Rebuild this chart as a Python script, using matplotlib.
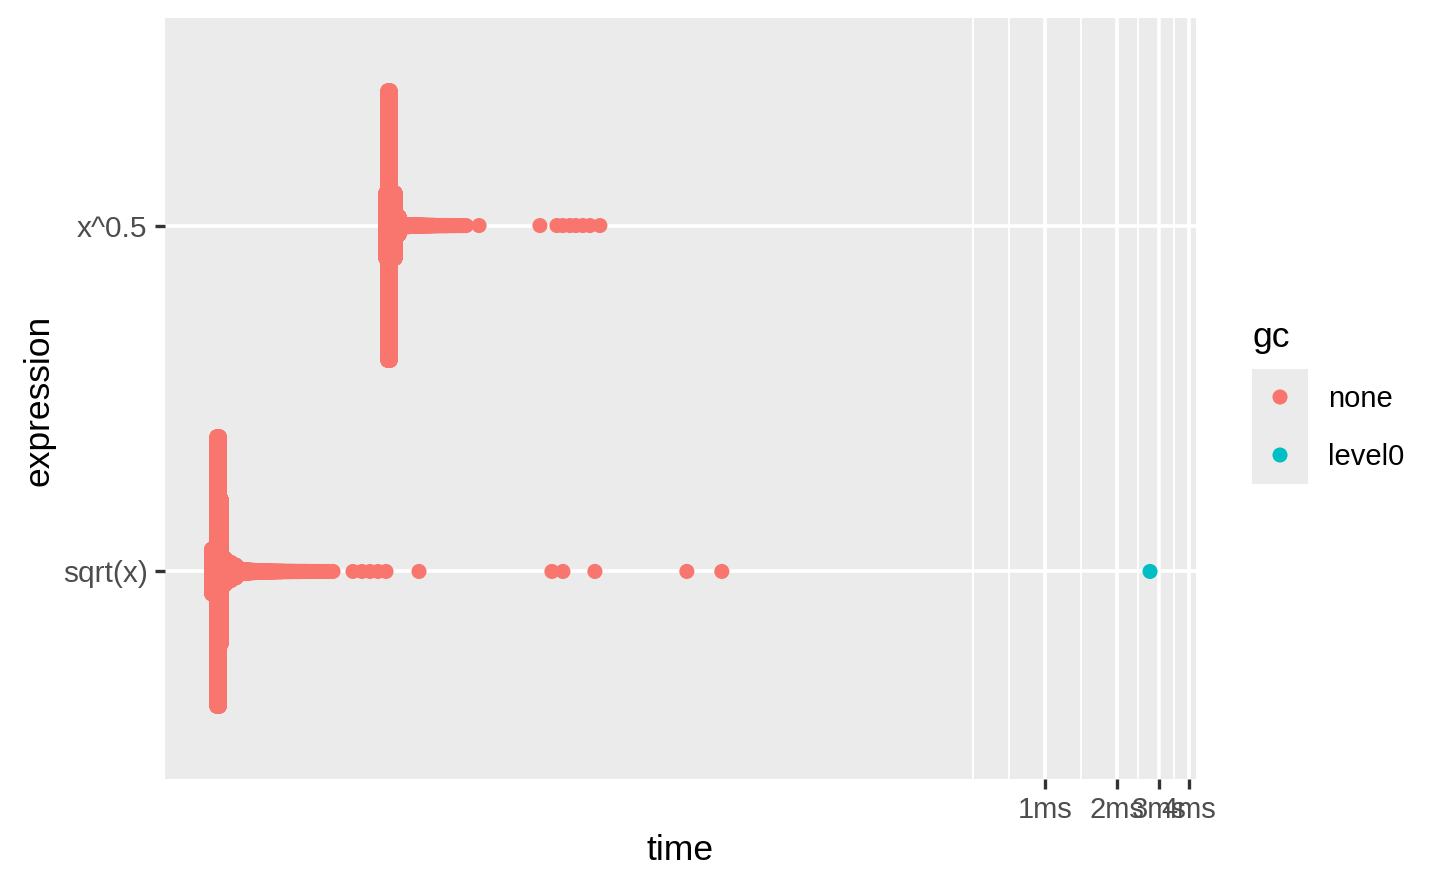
import numpy as np
import matplotlib
matplotlib.use("Agg")
import matplotlib.pyplot as plt
from matplotlib.ticker import FixedLocator, NullFormatter, NullLocator

# ---------------- data ----------------
expressions = ["sqrt(x)", "x^0.5"]
gc_levels = ["none", "level0"]
gc_colors = ["#F8766D", "#00BFC4"]

# sqrt(x), gc = none : distinct timings (ns) and how many iterations gave each
sqrt_times = [328, 345, 352, 358, 372, 395, 414,
              430, 440, 450, 460, 470, 480, 492, 505, 518, 530, 545, 560, 575,
              590, 605, 620, 636, 652, 668, 685, 702, 720, 740, 760, 780, 800,
              822, 845, 868, 892, 916, 940, 965, 990, 1015, 1040, 1054,
              1277, 1393, 1504, 1625, 1755, 2411, 8670, 9640, 13117, 31790, 44510]
sqrt_counts = [500, 3000, 3000, 1615, 300, 200, 140,
               60, 50, 45, 40, 35, 30, 28, 25, 22, 20, 18, 16, 14,
               12, 10, 9, 8, 7, 6, 6, 5, 5, 4, 4, 3, 3,
               3, 2, 2, 2, 2, 2, 1, 1, 1, 1, 1,
               1, 1, 1, 1, 1, 1, 1, 1, 1, 1, 1]

# sqrt(x), gc = level0
sqrt_level0_times = [2748000]
sqrt_level0_counts = [1]

# x^0.5, gc = none
pow_times = [1755, 1789, 1824, 1913, 1989,
             2030, 2070, 2110, 2150, 2200, 2250, 2300, 2350, 2400, 2460, 2520,
             2580, 2640, 2700, 2770, 2840, 2910, 2990, 3070, 3150, 3230, 3320,
             3410, 3500, 3600, 3700, 3800,
             4300, 7725, 9097, 9640, 10310, 10920, 11680, 12500, 13760]
pow_counts = [730, 3000, 3000, 730, 200,
              40, 35, 30, 28, 25, 22, 20, 18, 16, 14, 12,
              10, 9, 8, 7, 6, 5, 5, 4, 4, 3, 3,
              2, 2, 2, 1, 1,
              1, 1, 1, 1, 1, 1, 1, 1, 1]

x_breaks = [1e6, 2e6, 3e6, 4e6]
x_labels = ["1ms", "2ms", "3ms", "4ms"]


# ---------------- layout helpers (quasirandom-style offsets) ----------------
def vdc(n, base=2):
    out = np.zeros(n)
    for k in range(n):
        i, f, v = k + 1, 1.0, 0.0
        while i > 0:
            f /= base
            v += f * (i % base)
            i //= base
        out[k] = v
    return out


def beeswarm(times, counts, ypos, maxcount=3000, halfwidth=0.39):
    xs, ys = [], []
    for t, c in zip(times, counts):
        w = halfwidth * c / maxcount
        off = (2 * vdc(c) - 1) * w if c > 1 else np.zeros(1)
        xs.append(np.full(c, float(t)))
        ys.append(ypos + off)
    return np.concatenate(xs), np.concatenate(ys)


# ---------------- figure ----------------
W, H = 1440, 889
fig = plt.figure(figsize=(W / 100, H / 100), dpi=100)
plt.rcParams['font.family'] = ['Liberation Sans', 'DejaVu Sans']

L, R, T, B = 165, 1196, 18, 779
ax = fig.add_axes([L / W, 1 - B / H, (R - L) / W, (B - T) / H])
ax.set_facecolor("#EBEBEB")
for s in ax.spines.values():
    s.set_visible(False)

ax.set_xscale("log")
ax.set_xlim(209, 4.279e6)
ax.set_ylim(0.4, 2.6)

# grid
minor_breaks = [5e5, np.sqrt(0.5) * 1e6, np.sqrt(2) * 1e6, np.sqrt(6) * 1e6, np.sqrt(12) * 1e6]
for mb in minor_breaks:
    ax.axvline(mb, color="white", lw=1.3, zorder=0.5)
for xb in x_breaks:
    ax.axvline(xb, color="white", lw=2.6, zorder=0.6)
for yb in [1, 2]:
    ax.axhline(yb, color="white", lw=2.6, zorder=0.6)

ax.xaxis.set_major_locator(FixedLocator(x_breaks))
ax.set_xticklabels(x_labels)
ax.xaxis.set_minor_locator(NullLocator())
ax.xaxis.set_minor_formatter(NullFormatter())
ax.set_yticks([1, 2])
ax.set_yticklabels(expressions)
ax.tick_params(axis="both", which="major", length=7.5, width=2.4, color="#333333",
               labelsize=21.5, labelcolor="#4D4D4D")
ax.tick_params(axis="x", pad=5, labelsize=21)
ax.tick_params(axis="y", pad=5)

ms = 118
x1, y1 = beeswarm(sqrt_times, sqrt_counts, 1)
x2, y2 = beeswarm(pow_times, pow_counts, 2)
ax.scatter(x1, y1, s=ms, color=gc_colors[0], edgecolors="none", zorder=2)
ax.scatter(x2, y2, s=ms, color=gc_colors[0], edgecolors="none", zorder=2)
x3, y3 = beeswarm(sqrt_level0_times, sqrt_level0_counts, 1)
ax.scatter(x3, y3, s=ms, color=gc_colors[1], edgecolors="none", zorder=3)

# axis titles
fig.text((L + R) / 2 / W, 1 - 860 / H, "time", ha="center", va="baseline",
         fontsize=25.5, color="black")
fig.text(39 / W, 1 - 400 / H, "expression", ha="center", va="center",
         rotation=90, fontsize=25.5, color="black")

# legend
fig.text(1252 / W, 1 - 347 / H, "gc", ha="left", va="baseline", fontsize=25.5)
lax = fig.add_axes([1252 / W, 1 - 484 / H, 56 / W, 115 / H])
lax.set_facecolor("#EBEBEB")
for s in lax.spines.values():
    s.set_visible(False)
lax.set_xticks([])
lax.set_yticks([])
lax.set_xlim(0, 56)
lax.set_ylim(484, 369)
key_y = [397, 455]
for lev, col, ky in zip(gc_levels, gc_colors, key_y):
    lax.scatter([28], [ky], s=ms, color=col, edgecolors="none")
    fig.text(1328 / W, 1 - (ky + 10) / H, lev, ha="left", va="baseline",
             fontsize=21, color="black")

fig.savefig("out.png", dpi=100)
